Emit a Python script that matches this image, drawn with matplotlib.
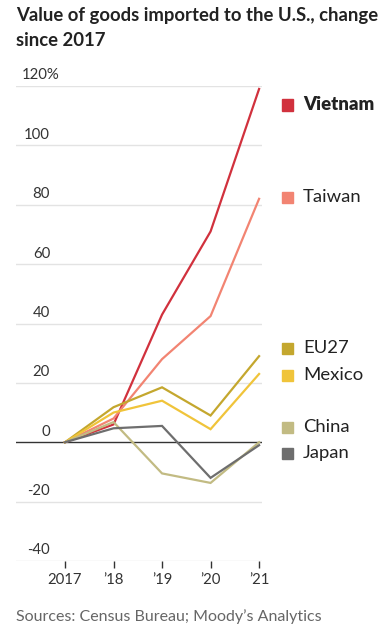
import matplotlib
matplotlib.use("Agg")
import matplotlib.pyplot as plt
import matplotlib.transforms as mtransforms

years = [2017, 2018, 2019, 2020, 2021]
xtick_labels = ["2017", "\u201918", "\u201919", "\u201920", "\u201921"]

vietnam = [0, 6, 43, 71, 119]
taiwan = [0, 8, 28, 42.5, 82]
eu27 = [0, 11.8, 18.5, 9, 29]
mexico = [0, 10, 14, 4.4, 23]
china = [0, 6.8, -10.5, -13.7, 0]
japan = [0, 4.7, 5.5, -12, -1]

series_names = ["Vietnam", "Taiwan", "EU27", "Mexico", "China", "Japan"]
series_values = [vietnam, taiwan, eu27, mexico, china, japan]
colors = ["#d1313d", "#f28472", "#c4a72e", "#f0c43a", "#c2bb83", "#6e6e6e"]
legend_y = [105, 197, 348, 375, 427, 453]  # pixel rows for legend labels

yticks = [-40, -20, 0, 20, 40, 60, 80, 100, 120]
ytick_labels = ["-40", "-20", "0", "20", "40", "60", "80", "100", "120%"]

W, H = 384, 640
fig = plt.figure(figsize=(W / 100, H / 100), dpi=100)

tick_font = dict(fontsize=10.7, color="#333333", family="Lato")

ax_left, ax_right, ax_top, ax_bot = 16, 262, 86, 561
ax = fig.add_axes([ax_left / W, 1 - ax_bot / H, (ax_right - ax_left) / W, (ax_bot - ax_top) / H])
ax.set_xlim(2015.99, 2021.06)
ax.set_ylim(-40, 120)
for s in ax.spines.values():
    s.set_visible(False)
ax.set_yticks([])
ax.set_xticks(years)
ax.set_xticklabels(xtick_labels, **tick_font)
ax.tick_params(axis="x", length=5, width=1, color="#333333", pad=4)

for v in yticks:
    if v == 0:
        continue
    ax.axhline(v, color="#e3e3e3", lw=1, zorder=1)
ax.axhline(0, color="#333333", lw=1, zorder=2)

trans = mtransforms.blended_transform_factory(ax.transAxes, ax.transData)
for v, lab in zip(yticks, ytick_labels):
    right_px = 60 if lab.endswith("%") else 50
    lx = (right_px - ax_left) / (ax_right - ax_left)
    ax.text(lx, v + 1.2, lab, transform=trans, ha="right", va="bottom", **tick_font)

for vals, c in zip(series_values, colors):
    ax.plot(years, vals, color=c, lw=1.6, zorder=3, solid_joinstyle="miter")

for name, c, py in zip(series_names, colors, legend_y):
    fig.patches.append(plt.Rectangle((282 / W, 1 - (py + 5.5) / H), 11 / W, 11 / H,
                                     transform=fig.transFigure, color=c))
    fig.text(303 / W, 1 - py / H, name, ha="left", va="center", fontsize=13.3,
             color="#222222", family="Lato", fontweight="heavy" if name == "Vietnam" else "normal")

fig.text(16 / W, 1 - 21 / H, "Value of goods imported to the U.S., change", ha="left",
         va="baseline", fontsize=13.3, fontweight="bold", color="#222222", family="Lato")
fig.text(16 / W, 1 - 46 / H, "since 2017", ha="left",
         va="baseline", fontsize=13.3, fontweight="bold", color="#222222", family="Lato")
fig.text(16 / W, 1 - 617 / H, "Sources: Census Bureau; Moody\u2019s Analytics", ha="left",
         va="center", fontsize=11.5, color="#666666", family="Lato")

fig.savefig("out.png", dpi=100)
